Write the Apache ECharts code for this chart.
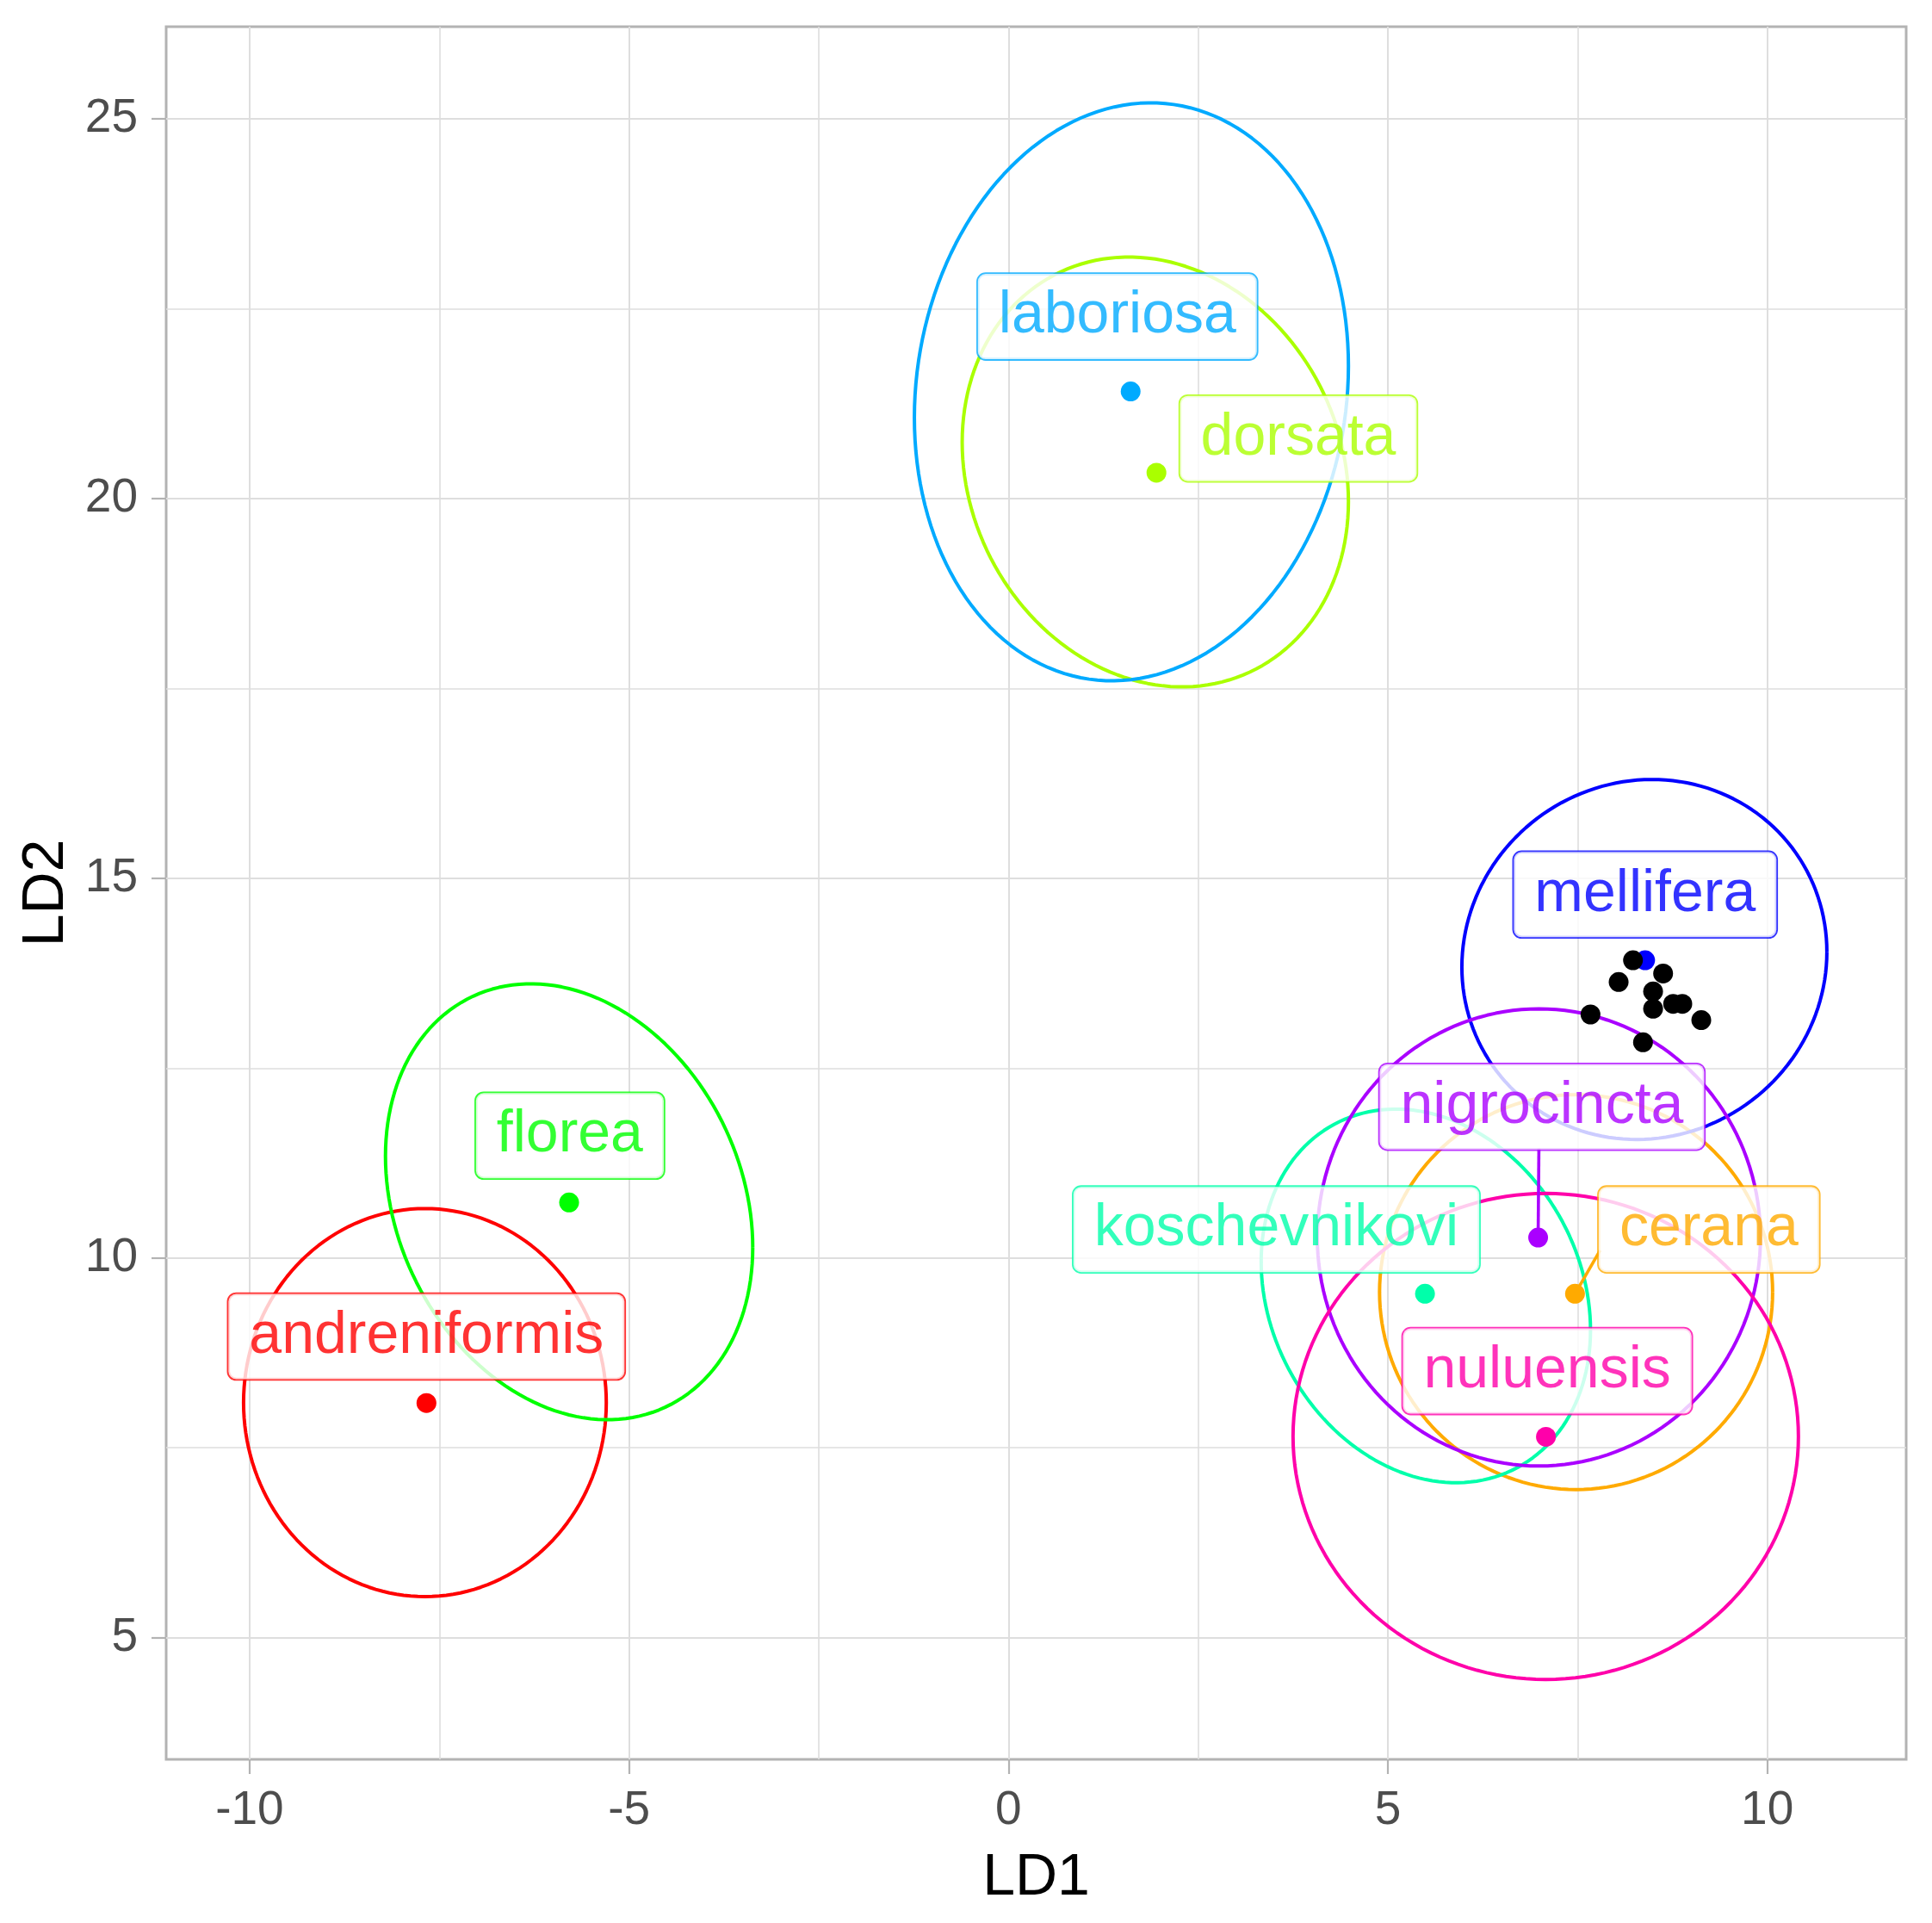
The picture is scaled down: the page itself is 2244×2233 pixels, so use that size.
<!DOCTYPE html>
<html><head><meta charset="utf-8">
<script src="https://cdn.jsdelivr.net/npm/echarts@6/dist/echarts.min.js"></script>
<style>html,body{margin:0;padding:0;background:#fff}#c{width:2244px;height:2233px}</style>
</head><body><div id="c"></div>
<script>
// ---- data ----
const species = ['andreniformis','cerana','dorsata','florea','koschevnikovi','laboriosa','mellifera','nigrocincta','nuluensis'];
const speciesColors = ['#FF0000','#FFAA00','#AAFF00','#00FF00','#00FFAA','#00AAFF','#0000FF','#AA00FF','#FF00AA'];
const centroidLD1 = [-7.67, 7.466, 1.95, -5.79, 5.489, 1.61, 8.39, 6.98, 7.083];
const centroidLD2 = [8.09, 9.528, 20.34, 10.73, 9.528, 21.41, 13.92, 10.268, 7.645];
// ellipse parameters (centre, horizontal half-width, vertical half-height, vertical offset of the side extremes)
const ellipseCX = [-7.69, 7.48, 1.935, -5.79, 5.50, 1.62, 8.38, 6.99, 7.08];
const ellipseCY = [8.095, 9.55, 20.35, 10.74, 9.50, 21.405, 13.93, 10.27, 7.65];
const ellipseRX = [2.39, 2.59, 2.545, 2.42, 2.17, 2.86, 2.405, 2.92, 3.33];
const ellipseRY = [2.555, 2.60, 2.83, 2.87, 2.46, 3.805, 2.37, 3.01, 3.20];
const ellipseShear = [0, 0, -0.39, -0.60, -0.45, 0.34, 0.10, 0, 0];
// black specimens
const unknownLD1 = [8.23, 8.627, 8.041, 8.495, 8.495, 8.759, 8.88, 7.67, 9.13, 8.362];
const unknownLD2 = [13.92, 13.746, 13.633, 13.508, 13.282, 13.346, 13.346, 13.206, 13.131, 12.84];
// repelled label centres
const labelLD1 = [-7.67, 9.23, 3.82, -5.78, 3.53, 1.435, 8.39, 7.03, 7.10];
const labelLD2 = [8.965, 10.375, 20.79, 11.61, 10.375, 22.396, 14.785, 11.99, 8.51];
// repel segments
const segmentSpecies = [7, 1];
const segmentEndLD1 = [6.99, 7.797];
const segmentEndLD2 = [11.446, 10.10];
// axes
const xTicks = [-10, -5, 0, 5, 10];
const xMinor = [-7.5, -2.5, 2.5, 7.5];
const yTicks = [5, 10, 15, 20, 25];
const yMinor = [7.5, 12.5, 17.5, 22.5];
const xRange = [-11.10, 11.83];
const yRange = [3.397, 26.213];

const FONT = "'Liberation Sans', Arial, sans-serif";

function ellipsePoints(i) {
  const cx = ellipseCX[i], cy = ellipseCY[i], rx = ellipseRX[i], ry = ellipseRY[i], s = ellipseShear[i];
  const h = Math.sqrt(ry * ry - s * s);
  const pts = [];
  const n = 160;
  for (let k = 0; k <= n; k++) {
    const t = 2 * Math.PI * k / n;
    pts.push([cx + rx * Math.cos(t), cy + s * Math.cos(t) + h * Math.sin(t)]);
  }
  return pts;
}

const series = [];
species.forEach((sp, i) => {
  series.push({
    type: 'line', name: sp + ' ellipse', data: ellipsePoints(i),
    showSymbol: false, symbol: 'none', smooth: false, silent: true,
    lineStyle: { color: speciesColors[i], width: 4 }, z: 2, animation: false
  });
});
series.push({
  type: 'scatter', name: 'centroids', z: 3, animation: false,
  symbolSize: 23,
  data: species.map((sp, i) => ({ name: sp, value: [centroidLD1[i], centroidLD2[i]], itemStyle: { color: speciesColors[i], opacity: 1 } }))
});
series.push({
  type: 'scatter', name: 'specimens', z: 4, animation: false,
  symbolSize: 23, itemStyle: { color: '#000000', opacity: 1 },
  data: unknownLD1.map((x, i) => [x, unknownLD2[i]])
});
segmentSpecies.forEach((si, k) => {
  series.push({
    type: 'line', name: 'segment ' + species[si], z: 5, animation: false,
    showSymbol: false, symbol: 'none', silent: true,
    lineStyle: { color: speciesColors[si], width: 3.6 },
    data: [[centroidLD1[si], centroidLD2[si]], [segmentEndLD1[k], segmentEndLD2[k]]]
  });
});
series.push({
  type: 'scatter', name: 'labels', z: 10, animation: false, silent: true,
  symbolSize: 0.01, itemStyle: { color: 'rgba(0,0,0,0)' },
  label: {
    show: true, position: 'inside', formatter: p => p.name,
    fontFamily: FONT, fontSize: 68, lineHeight: 68,
    backgroundColor: '#FFFFFF', borderWidth: 1.8, borderRadius: 9,
    padding: [18, 24, 13, 24], textBorderWidth: 0
  },
  data: species.map((sp, i) => ({
    name: sp, value: [labelLD1[i], labelLD2[i]],
    label: { color: speciesColors[i], borderColor: speciesColors[i] }
  }))
});

const tickStyle = { show: true, length: 17, lineStyle: { color: '#B3B3B3', width: 2.2 } };
const option = {
  backgroundColor: '#FFFFFF',
  animation: false,
  grid: { left: 193, right: 30, top: 31, bottom: 190, show: true, borderColor: '#B3B3B3', borderWidth: 3, backgroundColor: 'transparent' },
  xAxis: [
    {
      type: 'value', min: xRange[0], max: xRange[1], position: 'bottom',
      name: 'LD1', nameLocation: 'middle', nameGap: 104,
      nameTextStyle: { fontFamily: FONT, fontSize: 68, color: '#000000' },
      axisLine: { show: false, onZero: false },
      axisTick: Object.assign({ customValues: xTicks }, tickStyle),
      axisLabel: { customValues: xTicks, margin: 32, fontFamily: FONT, fontSize: 55, color: '#4D4D4D' },
      splitLine: { show: true, lineStyle: { color: '#DEDEDE', width: 2 } }
    },
    {
      type: 'value', min: xRange[0], max: xRange[1], position: 'bottom',
      axisLine: { show: false, onZero: false },
      axisTick: { show: false, customValues: xMinor },
      axisLabel: { show: false, customValues: xMinor },
      splitLine: { show: true, lineStyle: { color: '#DEDEDE', width: 1.6 } }
    }
  ],
  yAxis: [
    {
      type: 'value', min: yRange[0], max: yRange[1], position: 'left',
      name: 'LD2', nameLocation: 'middle', nameGap: 104, nameRotate: 90,
      nameTextStyle: { fontFamily: FONT, fontSize: 68, color: '#000000' },
      axisLine: { show: false, onZero: false },
      axisTick: Object.assign({ customValues: yTicks }, tickStyle),
      axisLabel: { customValues: yTicks, margin: 33, fontFamily: FONT, fontSize: 55, color: '#4D4D4D' },
      splitLine: { show: true, lineStyle: { color: '#DEDEDE', width: 2 } }
    },
    {
      type: 'value', min: yRange[0], max: yRange[1], position: 'left',
      axisLine: { show: false, onZero: false },
      axisTick: { show: false, customValues: yMinor },
      axisLabel: { show: false, customValues: yMinor },
      splitLine: { show: true, lineStyle: { color: '#DEDEDE', width: 1.6 } }
    }
  ],
  series: series
};
const chart = echarts.init(document.getElementById('c'), null, { renderer: 'canvas' });
chart.setOption(option);
</script>
</body></html>
